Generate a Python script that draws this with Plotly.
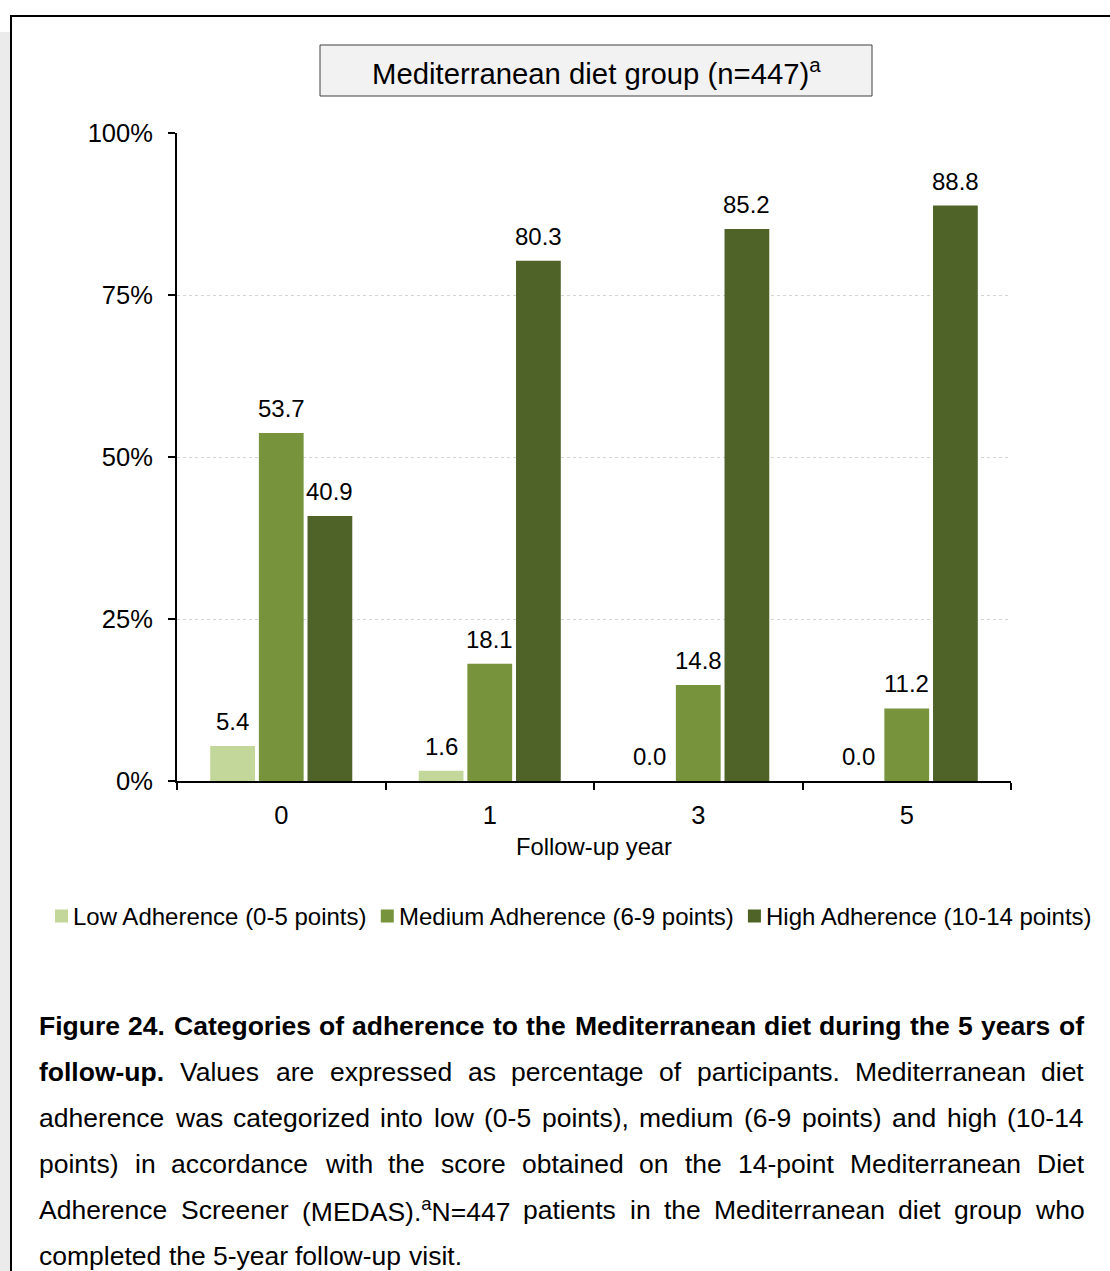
import plotly.graph_objects as go

# ---- data ----
years = ["0", "1", "3", "5"]
series_names = [
    "Low Adherence (0-5 points)",
    "Medium Adherence (6-9 points)",
    "High Adherence (10-14 points)",
]
low = [5.4, 1.6, 0.0, 0.0]
medium = [53.7, 18.1, 14.8, 11.2]
high = [40.9, 80.3, 85.2, 88.8]
colors = ["#c4d79b", "#77933c", "#4f6228"]
y_tick_vals = [0, 25, 50, 75, 100]
y_tick_text = ["0%", "25%", "50%", "75%", "100%"]

title_text = "Mediterranean diet group (n=447)<sup>a</sup>"
x_title = "Follow-up year"

# caption lines: list of (text, bold) segments per line; last line is not justified
caption_lines = [
    [("Figure 24. Categories of adherence to the Mediterranean diet during the 5 years of", True)],
    [("follow-up.", True), ("Values are expressed as percentage of participants. Mediterranean diet", False)],
    [("adherence was categorized into low (0-5 points), medium (6-9 points) and high (10-14", False)],
    [("points) in accordance with the score obtained on the 14-point Mediterranean Diet", False)],
    [("Adherence Screener (MEDAS).<sup>a</sup>N=447 patients in the Mediterranean diet group who", False)],
    [("completed the 5-year follow-up visit.", False)],
]

FONT = "Liberation Sans, Arial, sans-serif"
W, H = 1110, 1271


def px(x):
    return x / W


def py(y):
    return 1 - y / H


# Arial / Liberation Sans advance widths (1/1000 em)
_REG = {' ': 278, '(': 333, ')': 333, ',': 278, '-': 333, '.': 278, '=': 584, ':': 278, '%': 889,
        'A': 667, 'B': 667, 'C': 722, 'D': 722, 'E': 667, 'F': 611, 'G': 778, 'H': 722, 'I': 278,
        'J': 500, 'K': 667, 'L': 556, 'M': 833, 'N': 722, 'O': 778, 'P': 667, 'Q': 778, 'R': 722,
        'S': 667, 'T': 611, 'U': 722, 'V': 667, 'W': 944, 'X': 667, 'Y': 667, 'Z': 611,
        'a': 556, 'b': 556, 'c': 500, 'd': 556, 'e': 556, 'f': 278, 'g': 556, 'h': 556, 'i': 222,
        'j': 222, 'k': 500, 'l': 222, 'm': 833, 'n': 556, 'o': 556, 'p': 556, 'q': 556, 'r': 333,
        's': 500, 't': 278, 'u': 556, 'v': 500, 'w': 722, 'x': 500, 'y': 500, 'z': 500}
_BOLD = dict(_REG)
_BOLD.update({'A': 722, 'B': 722, 'a': 556, 'b': 611, 'c': 556, 'd': 611, 'f': 333, 'g': 611,
              'h': 611, 'i': 278, 'j': 278, 'k': 556, 'l': 278, 'm': 889, 'n': 611, 'o': 611,
              'p': 611, 'q': 611, 'r': 389, 's': 556, 't': 333, 'u': 611, 'v': 556, 'w': 778,
              'x': 556, 'y': 556})
for d in "0123456789":
    _REG[d] = 556
    _BOLD[d] = 556


def text_width(s, size, bold=False):
    table = _BOLD if bold else _REG
    total = 0.0
    scale = 1.0
    i = 0
    while i < len(s):
        if s.startswith("<sup>", i):
            scale = 0.7
            i += 5
            continue
        if s.startswith("</sup>", i):
            scale = 1.0
            i += 6
            continue
        total += table.get(s[i], 556) * scale
        i += 1
    return total * size / 1000.0


fig = go.Figure()

# grouped bars
for name, vals, col in zip(series_names, [low, medium, high], colors):
    fig.add_trace(go.Bar(x=years, y=vals, name=name, marker=dict(color=col, line=dict(width=0)),
                         showlegend=False, hoverinfo="x+y"))

BARGAP = 0.3
slot = (1 - BARGAP) / 3
annotations = []
shapes = []

# value labels above each bar
for k, vals in enumerate([low, medium, high]):
    for i, v in enumerate(vals):
        annotations.append(dict(x=i + (k - 1) * slot, y=v, xref="x", yref="y", text=f"{v:.1f}",
                                showarrow=False, yanchor="bottom", xanchor="center", yshift=10,
                                borderpad=0, font=dict(family=FONT, size=24, color="black")))

# title box
shapes.append(dict(type="rect", xref="paper", yref="paper", x0=px(320), x1=px(872), y0=py(96), y1=py(45),
                   fillcolor="#f2f2f2", line=dict(color="#404040", width=1), layer="below"))
annotations.append(dict(x=px(596), y=py(71), xref="paper", yref="paper", text=title_text, showarrow=False,
                        xanchor="center", yanchor="middle", borderpad=0,
                        font=dict(family=FONT, size=29.3, color="black")))

# page frame and grey strip
shapes.append(dict(type="rect", xref="paper", yref="paper", x0=0, x1=px(10), y0=0, y1=py(32),
                   fillcolor="#ebebeb", line=dict(width=0), layer="below"))
shapes.append(dict(type="line", xref="paper", yref="paper", x0=px(10), x1=1, y0=py(16), y1=py(16),
                   line=dict(color="black", width=2)))
shapes.append(dict(type="line", xref="paper", yref="paper", x0=px(11), x1=px(11), y0=py(15), y1=0,
                   line=dict(color="black", width=2)))

# legend row
LEG_SIZE = 24
lx = 55
ly = 916
for name, col in zip(series_names, colors):
    shapes.append(dict(type="rect", xref="paper", yref="paper", x0=px(lx), x1=px(lx + 13),
                       y0=py(ly + 6.5), y1=py(ly - 6.5), fillcolor=col, line=dict(width=0)))
    tx = lx + 17
    annotations.append(dict(x=px(tx), y=py(ly), xref="paper", yref="paper", text=name, showarrow=False,
                            xanchor="left", yanchor="middle", borderpad=0,
                            font=dict(family=FONT, size=LEG_SIZE, color="black")))
    lx = tx + text_width(name, LEG_SIZE) + 14

# justified caption, placed word by word
CAP_SIZE = 26.5
cap_left, cap_right = 38, 1083
cap_y0, cap_dy = 1026, 46
for li, segs in enumerate(caption_lines):
    words = []
    for txt, bold in segs:
        for w in txt.split(" "):
            words.append((w, bold))
    widths = [text_width(w, CAP_SIZE, b) for w, b in words]
    last = li == len(caption_lines) - 1
    if last or len(words) < 2:
        gap = CAP_SIZE * 0.278
    else:
        gap = (cap_right - cap_left - sum(widths)) / (len(words) - 1)
    x = cap_left
    yline = cap_y0 + li * cap_dy
    for (w, b), wd in zip(words, widths):
        annotations.append(dict(x=px(x), y=py(yline), xref="paper", yref="paper",
                                text=f"<b>{w}</b>" if b else w, showarrow=False,
                                xanchor="left", yanchor="middle", borderpad=0,
                                font=dict(family=FONT, size=CAP_SIZE, color="black")))
        x += wd + gap

fig.update_layout(
    width=W, height=H,
    margin=dict(l=0, r=0, t=0, b=0, autoexpand=False),
    paper_bgcolor="white", plot_bgcolor="white",
    barmode="group", bargap=BARGAP, bargroupgap=0.08,
    font=dict(family=FONT, color="black"),
    showlegend=False,
    annotations=annotations,
    shapes=shapes,
    xaxis=dict(domain=[px(177), px(1011)], type="category", range=[-0.5, 3.5], automargin=False,
               tickson="boundaries", ticks="outside", ticklen=7, tickwidth=2, tickcolor="black",
               showline=True, linecolor="black", linewidth=2, showgrid=False,
               tickfont=dict(family=FONT, size=25.5, color="black"), ticklabelstandoff=10,
               title=dict(text=x_title, font=dict(family=FONT, size=23.8, color="black"), standoff=11)),
    yaxis=dict(domain=[py(781), py(133)], range=[0, 100], tickvals=y_tick_vals, ticktext=y_tick_text,
               automargin=False,
               ticks="outside", ticklen=7, tickwidth=2, tickcolor="black",
               showline=True, linecolor="black", linewidth=2,
               showgrid=True, gridcolor="#d4d4d4", griddash="dot", gridwidth=1, zeroline=False,
               tickfont=dict(family=FONT, size=25.5, color="black"), ticklabelstandoff=10),
)

fig.write_html("out.html")
